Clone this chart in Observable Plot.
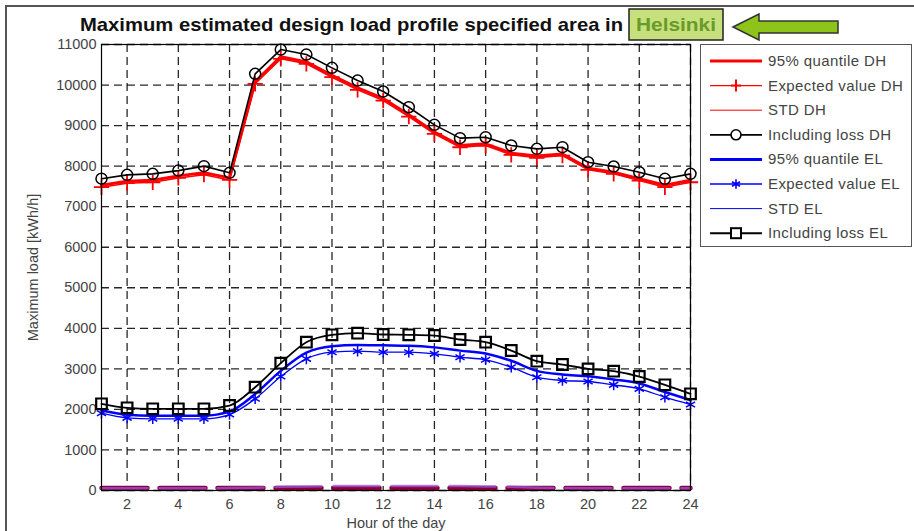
<!DOCTYPE html>
<html>
<head>
<meta charset="utf-8">
<script src="https://cdn.jsdelivr.net/npm/d3@7"></script>
<script src="https://cdn.jsdelivr.net/npm/@observablehq/plot@0.6"></script>
<style>
  html, body { margin: 0; padding: 0; background: #fff; }
  body { width: 914px; height: 531px; position: relative; overflow: hidden; font-family: "Liberation Sans", Arial, sans-serif; }
  #chart { position: absolute; left: 0; top: 0; }
  #overlay { position: absolute; left: 0; top: 0; pointer-events: none; }
  #legend { position: absolute; left: 700px; top: 44px; width: 212px; height: 203px; border: 1px solid #555; background: #fff; box-sizing: border-box; }
</style>
</head>
<body>
<div id="chart"></div>
<div id="legend"></div>
<svg id="overlay" width="914" height="531"></svg>
<script>
// ---- data ----
const hours = [1,2,3,4,5,6,7,8,9,10,11,12,13,14,15,16,17,18,19,20,21,22,23,24];
const quantileDH = [7530,7630,7650,7760,7840,7710,10080,10700,10570,10240,9930,9670,9270,8840,8510,8550,8320,8250,8300,7950,7850,7690,7530,7650];
const expectedDH = [7480,7580,7600,7710,7790,7660,10030,10646,10523,10193,9881,9618,9223,8796,8466,8508,8279,8205,8261,7909,7810,7645,7480,7603];
const stdDH = [60,60,60,60,60,60,60,60,60,60,60,60,60,60,60,60,60,60,60,60,60,60,60,60];
const lossDH = [7690,7785,7810,7890,8000,7835,10276,10875,10752,10424,10111,9840,9453,9018,8690,8713,8508,8426,8467,8097,7990,7850,7687,7810];
const quantileEL = [1975,1870,1845,1845,1845,1950,2380,2950,3400,3560,3590,3580,3570,3530,3450,3380,3200,2950,2860,2820,2740,2640,2430,2230];
const expectedEL = [1907,1792,1768,1768,1768,1874,2261,2811,3247,3411,3436,3411,3411,3370,3288,3223,3041,2795,2713,2688,2606,2507,2301,2121];
const stdEL = [55,55,55,55,55,60,70,90,100,110,110,110,110,110,110,100,90,70,60,55,55,55,55,55];
const lossEL = [2138,2039,2015,2015,2015,2096,2548,3140,3658,3840,3880,3847,3840,3822,3724,3658,3452,3189,3107,3000,2943,2811,2606,2384];
const xTicks = [2,4,6,8,10,12,14,16,18,20,22,24];
const yTicks = [0,1000,2000,3000,4000,5000,6000,7000,8000,9000,10000,11000];
const seriesNames = ["95% quantile DH","Expected value DH","STD DH","Including loss DH","95% quantile EL","Expected value EL","STD EL","Including loss EL"];
const titleText = "Maximum estimated design load profile specified area in";
const titleHighlight = "Helsinki";

const rows = (vals) => hours.map((h, i) => ({h, v: vals[i]}));
const RED = "#ff0000", BLUE = "#0000ff";

const plot = Plot.plot({
  width: 914,
  height: 531,
  marginLeft: 101,
  marginRight: 224,
  marginTop: 44,
  marginBottom: 41,
  style: {fontFamily: "'Liberation Sans', Arial, sans-serif", fontSize: "14.5px", color: "#444", background: "transparent"},
  x: {domain: [1, 24]},
  y: {domain: [0, 11000]},
  marks: [
    Plot.gridX(xTicks, {stroke: "#000", strokeOpacity: 0.85, strokeDasharray: "8,5", strokeWidth: 1.3}),
    Plot.gridY(yTicks, {stroke: "#000", strokeOpacity: 0.85, strokeDasharray: "8,5", strokeWidth: 1.3}),
    Plot.axisX({ticks: xTicks, tickSize: 0, tickPadding: 8, tickFormat: d3.format("d"), label: "Hour of the day", labelAnchor: "center", labelArrow: "none", labelOffset: 37, fill: "#444"}),
    Plot.axisY({ticks: yTicks, tickSize: 0, tickPadding: 5, tickFormat: d3.format("d"), label: "Maximum load [kWh/h]", labelAnchor: "center", labelArrow: "none", labelOffset: 74, fill: "#444"}),
    // STD lines near zero
    Plot.line(rows(stdDH), {x: "h", y: "v", stroke: "#8b0033", strokeWidth: 4.5, strokeDasharray: "46,12"}),
    Plot.line(rows(stdEL), {x: "h", y: "v", stroke: "#9a5cf0", strokeWidth: 2.5, strokeOpacity: 0.7, strokeDasharray: "46,12"}),
    // DH
    Plot.line(rows(quantileDH), {x: "h", y: "v", stroke: RED, strokeWidth: 3}),
    Plot.line(rows(expectedDH), {x: "h", y: "v", stroke: RED, strokeWidth: 1.5}),
    Plot.dot(rows(expectedDH), {x: "h", y: "v", symbol: "plus", r: 5, stroke: RED, strokeWidth: 1.8}),
    Plot.line(rows(lossDH), {x: "h", y: "v", stroke: "#000", strokeWidth: 1.6}),
    Plot.dot(rows(lossDH), {x: "h", y: "v", symbol: "circle", r: 5.5, stroke: "#000", strokeWidth: 1.5, fill: "none"}),
    // EL
    Plot.line(rows(quantileEL), {x: "h", y: "v", stroke: BLUE, strokeWidth: 2.5, curve: "monotone-x"}),
    Plot.line(rows(expectedEL), {x: "h", y: "v", stroke: BLUE, strokeWidth: 1.3, curve: "monotone-x"}),
    Plot.dot(rows(expectedEL), {x: "h", y: "v", symbol: "asterisk", r: 5, stroke: BLUE, strokeWidth: 1.5}),
    Plot.line(rows(lossEL), {x: "h", y: "v", stroke: "#000", strokeWidth: 1.8, curve: "monotone-x"}),
    Plot.dot(rows(lossEL), {x: "h", y: "v", symbol: "square", r: 6, stroke: "#000", strokeWidth: 2.2, fill: "none"}),
    Plot.frame({stroke: "#000", strokeWidth: 1.2})
  ]
});
document.getElementById("chart").appendChild(plot);

// ---- overlay: title, highlight, arrow, slide border ----
const ov = d3.select("#overlay");
ov.append("path").attr("d", "M6,531 V6 H914").attr("fill", "none").attr("stroke", "#555").attr("stroke-width", 2);
ov.append("text").attr("x", 80).attr("y", 31).attr("font-size", 19).attr("font-weight", "bold")
  .attr("fill", "#111").attr("textLength", 543).attr("lengthAdjust", "spacingAndGlyphs").text(titleText);
ov.append("rect").attr("x", 629).attr("y", 9).attr("width", 94).attr("height", 31)
  .attr("fill", "#c5e07c").attr("stroke", "#222").attr("stroke-width", 1.5);
ov.append("text").attr("x", 676).attr("y", 31).attr("text-anchor", "middle").attr("font-size", 19).attr("font-weight", "bold")
  .attr("fill", "#6a9a2a").attr("textLength", 80).attr("lengthAdjust", "spacingAndGlyphs").text(titleHighlight);
ov.append("path").attr("d", "M733,27 L759,14 L759,21 L838,21 L838,33 L759,33 L759,40 Z")
  .attr("fill", "#8ec41a").attr("stroke", "#333").attr("stroke-width", 1.5).attr("stroke-linejoin", "miter");

// ---- legend ----
const styles = [
  {stroke: RED, w: 3, sym: null},
  {stroke: RED, w: 1.3, sym: "plus"},
  {stroke: RED, w: 1, sym: null},
  {stroke: "#000", w: 1.8, sym: "circle"},
  {stroke: BLUE, w: 3, sym: null},
  {stroke: BLUE, w: 1.3, sym: "asterisk"},
  {stroke: BLUE, w: 1, sym: null},
  {stroke: "#000", w: 2, sym: "square"}
];
const lg = d3.select("#legend").append("svg").attr("width", 210).attr("height", 201);
seriesNames.forEach((name, i) => {
  const cy = 16 + i * 24.6;
  const s = styles[i];
  lg.append("line").attr("x1", 9).attr("x2", 61).attr("y1", cy).attr("y2", cy).attr("stroke", s.stroke).attr("stroke-width", s.w);
  const g = lg.append("g").attr("transform", `translate(35,${cy})`);
  if (s.sym === "plus") {
    g.append("path").attr("d", "M-5,0H5M0,-6V6").attr("stroke", s.stroke).attr("stroke-width", 2);
  } else if (s.sym === "asterisk") {
    g.append("path").attr("d", d3.symbol(d3.symbolAsterisk, 60)()).attr("stroke", s.stroke).attr("stroke-width", 1.6).attr("fill", "none");
  } else if (s.sym === "circle") {
    g.append("circle").attr("r", 5).attr("stroke", s.stroke).attr("stroke-width", 1.6).attr("fill", "#fff");
  } else if (s.sym === "square") {
    g.append("rect").attr("x", -5).attr("y", -5).attr("width", 10).attr("height", 10).attr("stroke", s.stroke).attr("stroke-width", 2).attr("fill", "#fff");
  }
  lg.append("text").attr("x", 67).attr("y", cy + 5).attr("font-size", 15).attr("letter-spacing", 0.4).attr("fill", "#444").text(name);
});
</script>
</body>
</html>
